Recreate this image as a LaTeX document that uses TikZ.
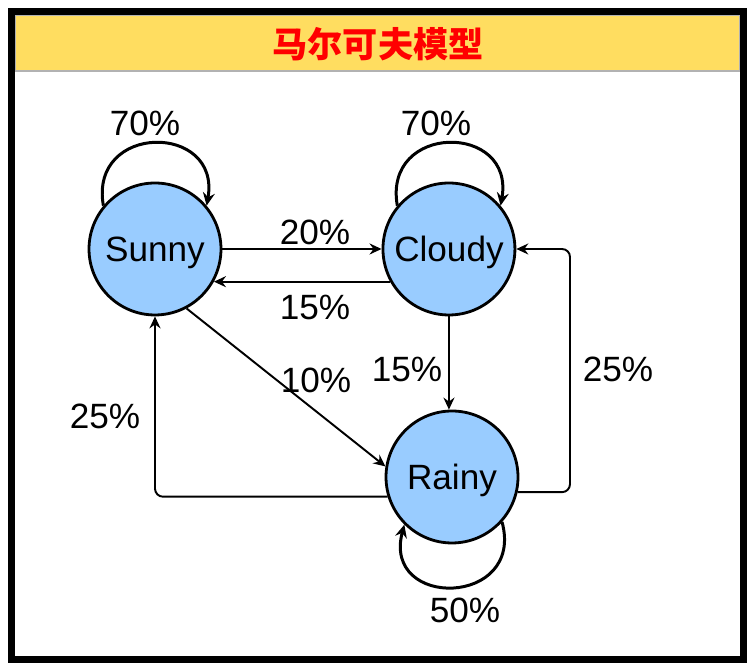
\documentclass[tikz,border=0pt]{standalone}
\usepackage{fontspec}
\setmainfont{Liberation Sans}
\newfontfamily\cjk{Noto Sans CJK SC}
\usetikzlibrary{arrows.meta,positioning}
\definecolor{titlebg}{HTML}{FFDD60}
\definecolor{statebg}{HTML}{99CCFF}

\begin{document}
\begin{tikzpicture}[x=0.02cm, y=0.02cm,
    state/.style={draw, circle, fill=statebg, line width=1.6pt, minimum size=2.64cm, text depth=0pt, font=\fontsize{20}{24}\selectfont},
    lbl/.style={font=\fontsize{20}{24}\selectfont, inner sep=0pt},
    edge/.style={line width=1.1pt, -{Stealth[length=2.4mm,width=2.2mm,inset=0.8mm]}},
    selfloop/.style={line width=1.7pt, -{Stealth[length=2.6mm,width=2.4mm,inset=0.9mm]}},
    node distance=5.88cm]
    \useasboundingbox (0,0) rectangle (754,672);
    \fill[white] (0,0) rectangle (754,672);
    \draw[fill=titlebg, draw=gray!60, line width=0.6pt] (15,601) rectangle (740,657);
    \node[text=red] (title) at (378,628) {\cjk\bfseries\fontsize{20}{24}\selectfont 马尔可夫模型};
    \draw[line width=0.14cm] (11.5,12) rectangle (743.5,660.5);

    \node[state] (sunny) at (155,423) {Sunny};
    \node[state] (cloudy) [right of=sunny] {Cloudy};
    \node[state] (rainy) at (452,195) {Rainy};
    \coordinate (bend) at (570,423);

    \draw[selfloop] (sunny.140) to[out=100, in=80, looseness=2.1] (sunny.40);
    \draw[selfloop] (cloudy.140) to[out=100, in=80, looseness=2.1] (cloudy.40);
    \draw[selfloop] (rainy.318) to[out=-75, in=-105, looseness=2.3] (rainy.225);

    \draw[edge] (sunny.east) -- (cloudy.west);
    \draw[edge] (cloudy.209) -- (sunny.331);
    \draw[edge] (sunny.298) -- (rainy.171);
    \draw[edge] (cloudy.south) -- (cloudy.south |- rainy.north);
    \draw[edge, rounded corners=0.16cm] (rainy.197) -| (sunny.south);
    \draw[edge, rounded corners=0.16cm] (rainy.347) -| (bend) -- (cloudy.east);

    \node[lbl] (s70) at (145,549) {70\%};
    \node[lbl] (c70) at (436,549) {70\%};
    \node[lbl] (r50) at (465,62) {50\%};
    \node[lbl] (sc20) at (315,440) {20\%};
    \node[lbl] (cs15) at (315,365) {15\%};
    \node[lbl] (sr10) at (316,292) {10\%};
    \node[lbl] (cr15) at (407,303) {15\%};
    \node[lbl] (rs25) at (105,256) {25\%};
    \node[lbl] (rc25) at (618,303) {25\%};
\end{tikzpicture}
\end{document}
